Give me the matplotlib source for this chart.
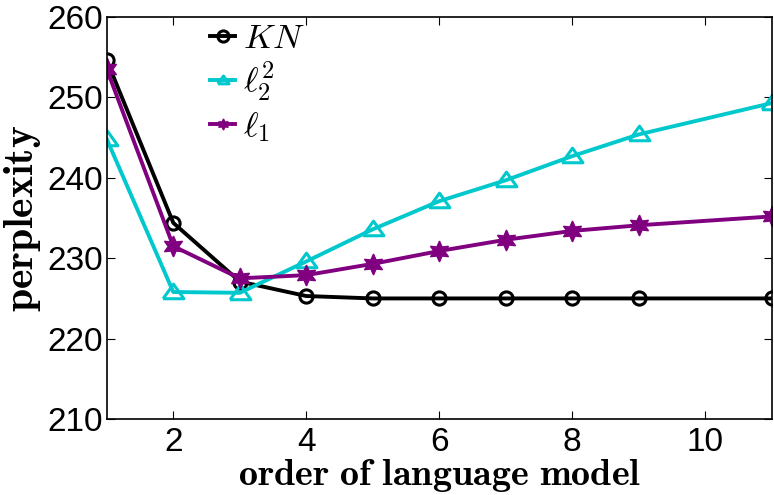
import matplotlib
matplotlib.use('Agg')
import matplotlib.pyplot as plt

x_orders = [1, 2, 3, 4, 5, 6, 7, 8, 9, 11]
kn = [254.6, 234.4, 227.1, 225.3, 225.0, 225.0, 225.0, 225.0, 225.0, 225.0]
l22 = [244.8, 225.8, 225.7, 229.6, 233.6, 237.1, 239.7, 242.7, 245.4, 249.3]
l1 = [253.5, 231.5, 227.5, 227.9, 229.3, 230.9, 232.3, 233.4, 234.1, 235.2]
labels = [r'$KN$', r'$\ell_2^2$', r'$\ell_1$']
xticks = [2, 4, 6, 8, 10]
yticks = [210, 220, 230, 240, 250, 260]

plt.rcParams['mathtext.fontset'] = 'cm'
tickfont = 'Liberation Sans'

fig = plt.figure(figsize=(7.74, 4.95), dpi=100)
ax = fig.add_axes([0.138, 0.1535, 0.859, 0.812])

star6 = (6, 1, 0)
wide_tri = [(-1, -0.6), (1, -0.6), (0, 0.8), (-1, -0.6)]
ax.plot(x_orders, kn, color='black', lw=2.8, marker='o', ms=9.5, mfc='none', mew=2.2, label=labels[0])
ax.plot(x_orders, l22, color='#00c8cc', lw=2.8, marker=wide_tri, ms=15, mfc='none', mew=2.2, label=labels[1])
ax.plot(x_orders, l1, color='#800080', lw=2.8, marker=star6, ms=15, mfc='#800080', mew=1.0, label=labels[2])

ax.set_xlim(1, 11)
ax.set_ylim(210, 260)
ax.set_xticks(xticks)
ax.set_yticks(yticks)
ax.tick_params(direction='in', top=True, right=True, length=6, width=0.8, labelsize=24)
ax.tick_params(axis='x', pad=6)
ax.tick_params(axis='y', pad=3)
for lab in ax.get_xticklabels() + ax.get_yticklabels():
    lab.set_fontfamily(tickfont)
for s in ax.spines.values():
    s.set_linewidth(1.2)

ax.set_xlabel(r'$\mathbf{order\ of\ language\ model}$', fontsize=27.5, labelpad=-1)
ax.set_ylabel(r'$\mathbf{perplexity}$', fontsize=30, labelpad=3)

leg = ax.legend(loc='upper left', bbox_to_anchor=(0.135, 1.025), frameon=False, fontsize=25,
                handlelength=0.7, handletextpad=0.25, labelspacing=0.15, borderaxespad=0.0)
for h in leg.legend_handles:
    h.set_markersize(8)
    h.set_linewidth(2.8)

fig.savefig('out.png', dpi=100)
